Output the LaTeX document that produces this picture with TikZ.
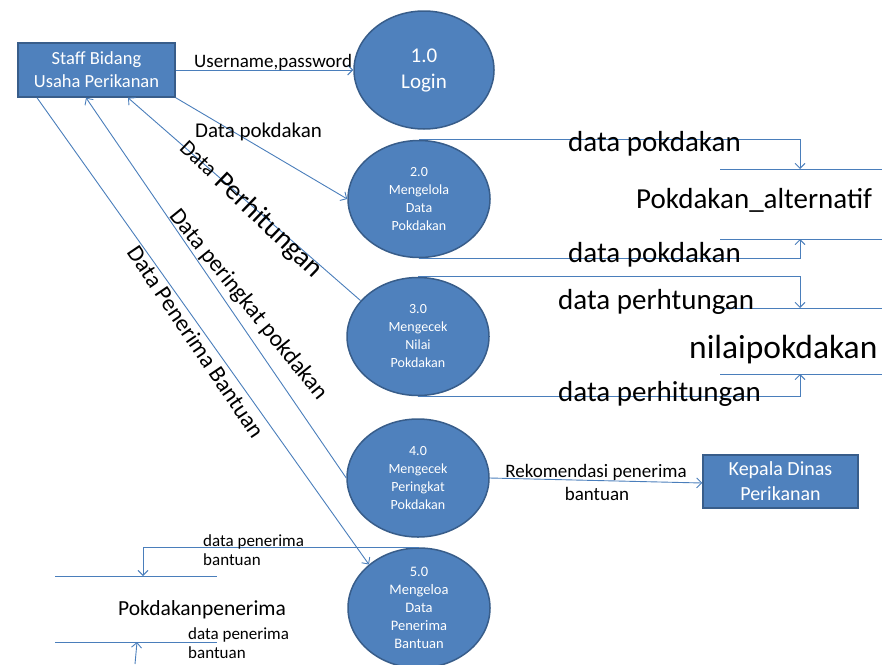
\documentclass[tikz,border=0pt]{standalone}
\usepackage{fontspec}
\setmainfont{Carlito}
\usetikzlibrary{shapes.geometric,arrows.meta}
\definecolor{fillblue}{HTML}{4F81BD}
\definecolor{edgeblue}{HTML}{385D8A}
\definecolor{lineblue}{HTML}{4A7EBB}
\begin{document}
\begin{tikzpicture}[x=1pt,y=-1pt,
  proc/.style={ellipse, draw=edgeblue, line width=1.5pt, fill=fillblue, text=white, align=center, inner sep=0pt},
  ext/.style={rectangle, draw=edgeblue, line width=1.5pt, fill=fillblue, text=white, align=center, inner sep=0pt},
  flow/.style={draw=lineblue, line width=0.9pt, -{Straight Barb[length=5pt,width=10pt]}},
  plain/.style={draw=lineblue, line width=0.9pt},
  lbl/.style={text=black, inner sep=0pt},
  small/.style={font=\fontsize{14}{18}\selectfont},
  big/.style={font=\fontsize{29}{34}\selectfont},
]
\useasboundingbox (0,0) rectangle (882,664);

% external entities
\node[ext, minimum width=157pt, minimum height=54pt, font=\fontsize{18.5}{23}\selectfont] (staff) at (96.5,70) {Staff Bidang\\Usaha Perikanan};
\node[ext, minimum width=155pt, minimum height=53pt, font=\fontsize{20}{25}\selectfont] (kepala) at (780.5,481.5) {Kepala Dinas\\Perikanan};

% processes
\node[proc, minimum width=140pt, minimum height=118pt, font=\fontsize{21}{26}\selectfont] (c1) at (424,70) {1.0\\Login};
\node[proc, small, minimum width=142pt, minimum height=117pt] (c2) at (419,199) {2.0\\Mengelola\\Data\\Pokdakan};
\node[proc, small, minimum width=142pt, minimum height=118pt] (c3) at (418,336.5) {3.0\\Mengecek\\Nilai\\Pokdakan};
\node[proc, small, minimum width=142pt, minimum height=118pt] (c4) at (418,478) {4.0\\Mengecek\\Peringkat\\Pokdakan};
\node[proc, font=\fontsize{14.5}{18}\selectfont, minimum width=142pt, minimum height=120pt] (c5) at (419,608) {5.0\\Mengeloa\\Data\\Penerima\\Bantuan};

% data store coordinates
\coordinate (s1a) at (720,169); \coordinate (s1b) at (882,169);
\coordinate (s1c) at (720,239); \coordinate (s1d) at (882,239);
\coordinate (s2a) at (720,308); \coordinate (s2b) at (882,308);
\coordinate (s2c) at (720,374); \coordinate (s2d) at (882,374);
\coordinate (s3a) at (55,576);  \coordinate (s3b) at (217,576);
\coordinate (s3c) at (55,642);  \coordinate (s3d) at (217,642);
\coordinate (s1in) at (800,169); \coordinate (s1out) at (800,239);
\coordinate (s2in) at (800,308); \coordinate (s2out) at (800,374);
\coordinate (s3in) at (143,576); \coordinate (s3out) at (137,642);
\coordinate (s3src) at (135,664);

% store lines
\draw[plain] (s1a) -- (s1b); \draw[plain] (s1c) -- (s1d);
\draw[plain] (s2a) -- (s2b); \draw[plain] (s2c) -- (s2d);
\draw[plain] (s3a) -- (s3b); \draw[plain] (s3c) -- (s3d);

% flows
\draw[flow] (staff.east) -- (c1.west);
\draw[flow] (staff.south east) -- (c2.west);
\draw[flow] (c3.148) -- ([xshift=31.5pt]staff.south);
\draw[flow] (c4.180) -- ([xshift=-10.5pt]staff.south);
\draw[flow] ([xshift=-59.5pt]staff.south) -- (c5.139);
\draw[flow] (c4.east) -- ([yshift=-1.5pt]kepala.west);
\draw[flow] (c2.north) -| (s1in);
\draw[flow] (c2.south) -| (s1out);
\draw[flow] (c3.north) -| (s2in);
\draw[flow] (c3.south) -| (s2out);
\draw[flow] (c5.north) -| (s3in);
\draw[flow] (s3src) -- (s3out);

% labels
\node[lbl, anchor=base west, font=\fontsize{19}{23}\selectfont] (lu) at (194,67) {Username,password};
\node[lbl, anchor=base west, font=\fontsize{21}{25}\selectfont] (lp) at (195,137) {Data pokdakan};
\node[lbl, rotate=-44] (lh) at (251,209) {{\fontsize{22}{26}\selectfont Data}\hspace{7pt}{\fontsize{28}{32}\selectfont Perhitungan}};
\node[lbl, rotate=-51, font=\fontsize{23.5}{27}\selectfont] (lr) at (248,305) {Data peringkat pokdakan};
\node[lbl, rotate=-56, font=\fontsize{23.5}{27}\selectfont] (lb) at (196,342) {Data Penerima Bantuan};
\node[lbl, anchor=base, font=\fontsize{19}{23}\selectfont] (lk1) at (596,477) {Rekomendasi penerima};
\node[lbl, anchor=base, font=\fontsize{19}{23}\selectfont] (lk2) at (597,500) {bantuan};

\node[lbl, big, anchor=base west] (t1) at (568,151) {data pokdakan};
\node[lbl, big, anchor=base west] (t2) at (636,208) {Pokdakan\_alternatif};
\node[lbl, big, anchor=base west] (t3) at (568,262) {data pokdakan};
\node[lbl, big, anchor=base west] (t4) at (558,309) {data perhtungan};
\node[lbl, anchor=base west, font=\fontsize{33.5}{38}\selectfont] (t5) at (689,358) {nilaipokdakan};
\node[lbl, big, anchor=base west] (t6) at (558,401) {data perhitungan};

\node[lbl, anchor=base west, font=\fontsize{17}{20}\selectfont] (b1) at (203,546) {data penerima};
\node[lbl, anchor=base west, font=\fontsize{17}{20}\selectfont] (b2) at (203,565) {bantuan};
\node[lbl, anchor=base west, font=\fontsize{21.5}{25}\selectfont] (b3) at (118,615) {Pokdakanpenerima};
\node[lbl, anchor=base west, font=\fontsize{17}{20}\selectfont] (b4) at (188,639) {data penerima};
\node[lbl, anchor=base west, font=\fontsize{17}{20}\selectfont] (b5) at (188,658) {bantuan};
\end{tikzpicture}
\end{document}
